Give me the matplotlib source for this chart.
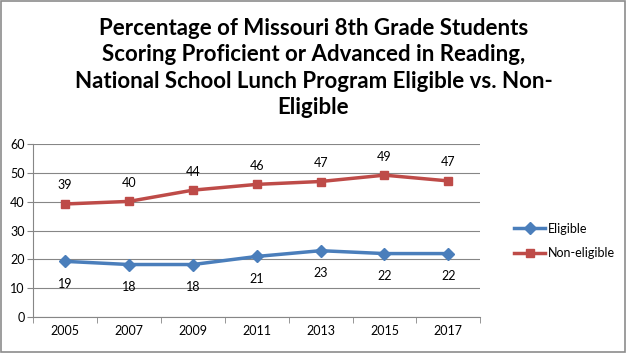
import matplotlib.pyplot as plt
import numpy as np
from matplotlib.patches import Rectangle

years = ['2005', '2007', '2009', '2011', '2013', '2015', '2017']
eligible = [19.3, 18.2, 18.2, 21.0, 23.0, 22.0, 22.0]
non_eligible = [39.2, 40.1, 44.0, 46.0, 47.0, 49.2, 47.2]
eligible_labels = [19, 18, 18, 21, 23, 22, 22]
non_eligible_labels = [39, 40, 44, 46, 47, 49, 47]

blue = '#4A7EBB'
red = '#BE4B48'
font = 'Lato'

fig = plt.figure(figsize=(6.27, 3.53), dpi=100)
fig.patches.append(Rectangle((0.002, 0.003), 0.995, 0.994, transform=fig.transFigure,
                             fill=False, edgecolor='#8c8c8c', linewidth=1.2))

ax = fig.add_axes([0.053, 0.102, 0.713, 0.490])
x = np.arange(len(years))

ax.plot(x, eligible, color=blue, linewidth=2.5, marker='D', markersize=6,
        label='Eligible')
ax.plot(x, non_eligible, color=red, linewidth=2.5, marker='s', markersize=6,
        label='Non-eligible')

for xi, v, lab in zip(x, eligible, eligible_labels):
    ax.annotate(str(lab), (xi, v), xytext=(0, -12), textcoords='offset points',
                ha='center', va='top', fontsize=9, family=font)
for xi, v, lab in zip(x, non_eligible, non_eligible_labels):
    ax.annotate(str(lab), (xi, v), xytext=(0, 9), textcoords='offset points',
                ha='center', va='bottom', fontsize=9, family=font)

ax.set_xlim(-0.5, len(years) - 0.5)
ax.set_ylim(0, 60)
ax.set_yticks(range(0, 61, 10))
ax.set_xticks(x)
ax.set_xticklabels(years, family=font, fontsize=9)
ax.set_xticks(np.arange(-0.5, len(years)), minor=True)
ax.tick_params(axis='x', which='major', length=0, pad=6)
ax.tick_params(axis='x', which='minor', length=4, color='#868686', direction='out')
ax.tick_params(axis='y', length=4, color='#868686', labelsize=9, pad=2)
for t in ax.get_yticklabels():
    t.set_family(font)

ax.grid(axis='y', color='#868686', linewidth=0.8)
ax.set_axisbelow(True)
for s in ['top', 'right']:
    ax.spines[s].set_visible(False)
ax.spines['left'].set_color('#868686')
ax.spines['bottom'].set_color('#868686')

ax.legend(loc='center left', bbox_to_anchor=(1.05, 0.44), frameon=False,
          prop={'family': font, 'size': 9}, handlelength=2.5, labelspacing=1.0,
          handletextpad=0.2)

fig.text(0.5, 0.95, 'Percentage of Missouri 8th Grade Students\n'
         'Scoring Proficient or Advanced in Reading,\n'
         'National School Lunch Program Eligible vs. Non-\nEligible',
         ha='center', va='top', fontsize=16, fontweight='bold', family=font,
         linespacing=1.33)

fig.savefig('out.png', dpi=100)
